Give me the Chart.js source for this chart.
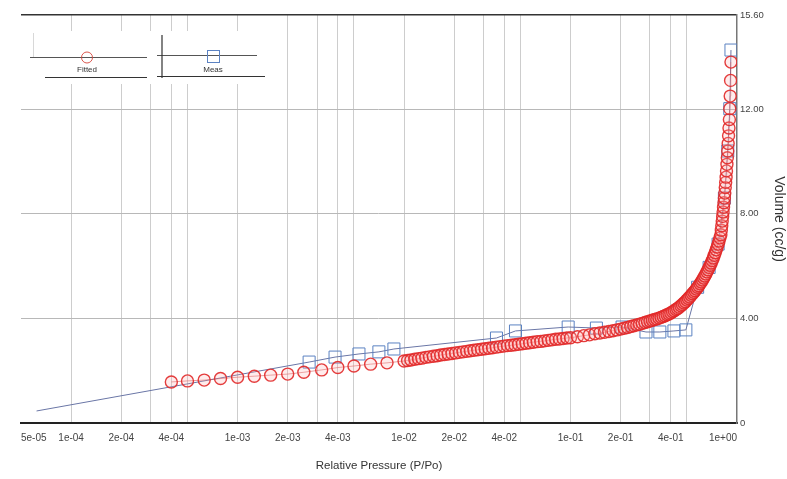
<!DOCTYPE html>
<html>
<head>
<meta charset="utf-8">
<script src="https://cdn.jsdelivr.net/npm/chart.js@4"></script>
<style>
  html, body { margin: 0; padding: 0; background: #fff; }
  canvas { display: block; }
</style>
</head>
<body>
<canvas id="chartIsotherm" width="787" height="479"></canvas>
<script>
// relative pressure (P/Po) and volume (cc/g)
const fittedP = [
  4.0e-4, 5.0e-4, 6.3e-4, 7.9e-4, 1.0e-3, 1.26e-3, 1.58e-3, 2.0e-3, 2.5e-3, 3.2e-3, 4.0e-3, 5.0e-3, 6.3e-3, 7.9e-3,
  0.0100, 0.0105, 0.0110, 0.0116, 0.0122, 0.0128, 0.0135, 0.0142, 0.0150, 0.0158, 0.0166, 0.0175, 0.0184, 0.0194, 0.0204,
  0.0215, 0.0226, 0.0238, 0.0250, 0.0263, 0.0277, 0.0292, 0.0307, 0.0323, 0.0340, 0.0358, 0.0377, 0.0397, 0.0418, 0.0440,
  0.0463, 0.0487, 0.0513, 0.0540, 0.0568, 0.0598, 0.0630, 0.0663, 0.0698, 0.0735, 0.0773, 0.0814, 0.0857, 0.0902, 0.0950,
  0.10, 0.11, 0.12, 0.13, 0.14, 0.15, 0.16, 0.17, 0.18, 0.19, 0.20, 0.21, 0.22, 0.23, 0.24, 0.25, 0.26, 0.27, 0.28, 0.29,
  0.30, 0.31, 0.32, 0.33, 0.34, 0.35, 0.36, 0.37, 0.38, 0.39, 0.40, 0.41, 0.42, 0.43, 0.44, 0.45, 0.46, 0.47, 0.48, 0.49,
  0.50, 0.51, 0.52, 0.53, 0.54, 0.55, 0.56, 0.57, 0.58, 0.59, 0.60, 0.61, 0.62, 0.63, 0.64, 0.65, 0.66, 0.67, 0.68, 0.69,
  0.70, 0.71, 0.72, 0.73, 0.74, 0.75, 0.76, 0.77, 0.78, 0.79, 0.80,
  0.805, 0.810, 0.815, 0.820, 0.825, 0.830, 0.835, 0.840, 0.845, 0.850, 0.855, 0.860, 0.865, 0.870, 0.875, 0.880,
  0.885, 0.890, 0.895, 0.900, 0.905, 0.910, 0.915, 0.920
];
const fittedV = [
  1.57, 1.61, 1.64, 1.70, 1.75, 1.79, 1.83, 1.87, 1.94, 2.03, 2.12, 2.18, 2.25, 2.30,
  2.37, 2.39, 2.41, 2.44, 2.46, 2.48, 2.51, 2.53, 2.55, 2.57, 2.60, 2.62, 2.64, 2.66, 2.68,
  2.70, 2.72, 2.74, 2.76, 2.78, 2.80, 2.82, 2.84, 2.86, 2.88, 2.90, 2.92, 2.94, 2.96, 2.97,
  2.99, 3.01, 3.03, 3.05, 3.07, 3.09, 3.11, 3.12, 3.14, 3.16, 3.18, 3.20, 3.21, 3.23, 3.25,
  3.26, 3.30, 3.34, 3.37, 3.41, 3.44, 3.47, 3.50, 3.53, 3.56, 3.59, 3.62, 3.65, 3.69, 3.72, 3.75, 3.78, 3.81, 3.84, 3.87,
  3.90, 3.93, 3.96, 3.98, 4.01, 4.04, 4.07, 4.10, 4.14, 4.17, 4.21, 4.25, 4.29, 4.34, 4.38, 4.43, 4.48, 4.53, 4.59, 4.64,
  4.70, 4.76, 4.82, 4.88, 4.94, 5.00, 5.06, 5.12, 5.19, 5.25, 5.32, 5.39, 5.47, 5.54, 5.62, 5.70, 5.78, 5.86, 5.95, 6.03,
  6.12, 6.21, 6.31, 6.41, 6.51, 6.62, 6.73, 6.84, 6.96, 7.08, 7.20,
  7.37, 7.54, 7.72, 7.90, 8.07, 8.25, 8.42, 8.60, 8.79, 9.00, 9.20, 9.40, 9.64, 9.89, 10.14, 10.40,
  10.69, 10.98, 11.28, 11.60, 12.02, 12.50, 13.10, 13.80
];
const measP = [6.2e-5, 2.69e-3, 3.85e-3, 5.36e-3, 7.06e-3, 8.69e-3, 3.59e-2, 4.67e-2, 9.68e-2, 0.143, 0.204,
  0.284, 0.344, 0.418, 0.493, 0.58, 0.68, 0.77, 0.84, 0.88, 0.905, 0.92];
const measV = [0.46, 2.33, 2.52, 2.64, 2.72, 2.83, 3.25, 3.52, 3.67, 3.63, 3.67,
  3.48, 3.48, 3.52, 3.56, 5.19, 5.95, 6.84, 8.60, 10.40, 12.02, 14.26];

const xTickValues = [5e-5, 1e-4, 2e-4, 3e-4, 4e-4, 5e-4, 1e-3, 2e-3, 3e-3, 4e-3, 5e-3,
  1e-2, 2e-2, 3e-2, 4e-2, 5e-2, 1e-1, 2e-1, 3e-1, 4e-1, 5e-1, 1];
const xTickLabels = ["5e-05", "1e-04", "2e-04", "", "4e-04", "", "1e-03", "2e-03", "", "4e-03", "",
  "1e-02", "2e-02", "", "4e-02", "", "1e-01", "2e-01", "", "4e-01", "", "1e+00"];
const yTickValues = [0, 4, 8, 12, 15.6];
const yTickLabels = ["0", "4.00", "8.00", "12.00", "15.60"];

const FONT = "'Liberation Sans', Arial, sans-serif";

// the little two-cell legend box in the top left corner
const legendBox = {
  id: "legendBox",
  afterDraw(chart) {
    const ctx = chart.ctx;
    ctx.save();
    ctx.fillStyle = "#fff";
    ctx.fillRect(29, 31, 242, 53);

    ctx.strokeStyle = "#d8d8d8";
    ctx.lineWidth = 1;
    ctx.beginPath();
    ctx.moveTo(33.5, 33); ctx.lineTo(33.5, 57);
    ctx.stroke();

    ctx.strokeStyle = "#555";
    ctx.beginPath();
    ctx.moveTo(30, 57.5); ctx.lineTo(147, 57.5);
    ctx.moveTo(157, 55.5); ctx.lineTo(257, 55.5);
    ctx.stroke();

    ctx.strokeStyle = "#333";
    ctx.lineWidth = 1.2;
    ctx.beginPath();
    ctx.moveTo(45, 77.5); ctx.lineTo(147, 77.5);
    ctx.moveTo(157, 76.5); ctx.lineTo(265, 76.5);
    ctx.moveTo(162, 35); ctx.lineTo(162, 78);
    ctx.stroke();

    ctx.strokeStyle = "rgba(215,70,60,0.9)";
    ctx.lineWidth = 1;
    ctx.beginPath();
    ctx.arc(87, 57.5, 5.5, 0, Math.PI * 2);
    ctx.stroke();

    ctx.strokeStyle = "#5b82c2";
    ctx.strokeRect(207.5, 50.5, 12, 12);

    ctx.fillStyle = "#333";
    ctx.font = "8px " + FONT;
    ctx.textAlign = "center";
    ctx.textBaseline = "middle";
    ctx.fillText("Fitted", 87, 70);
    ctx.fillText("Meas", 213, 70);
    ctx.restore();
  }
};

new Chart(document.getElementById("chartIsotherm"), {
  type: "scatter",
  data: {
    datasets: [
      {
        label: "Fitted",
        data: fittedP.map((p, i) => ({ x: p, y: fittedV[i] })),
        showLine: true,
        borderColor: "rgba(210,80,80,0.55)",
        borderWidth: 1,
        pointStyle: "circle",
        pointRadius: 6,
        pointBorderWidth: 1.4,
        pointBorderColor: "rgba(225,40,40,0.9)",
        pointBackgroundColor: "rgba(255,170,170,0.22)"
      },
      {
        label: "Meas",
        data: measP.map((p, i) => ({ x: p, y: measV[i] })),
        showLine: true,
        borderColor: "#6a76a6",
        borderWidth: 1,
        pointStyle: "rect",
        pointRadius: (c) => (c.dataIndex === 0 ? 0 : 8.5),
        pointBorderWidth: 1,
        pointBorderColor: "#5b82c2",
        pointBackgroundColor: "rgba(0,0,0,0)"
      }
    ]
  },
  options: {
    responsive: false,
    animation: false,
    devicePixelRatio: 1,
    layout: { padding: { left: 21, top: 15, right: 0, bottom: 0 } },
    plugins: { legend: { display: false }, tooltip: { enabled: false } },
    scales: {
      x: {
        type: "logarithmic",
        min: 5e-5,
        max: 1,
        afterBuildTicks: (s) => { s.ticks = xTickValues.map((v) => ({ value: v })); },
        afterFit: (s) => { s.height = 56; },
        ticks: {
          autoSkip: false,
          maxRotation: 0,
          align: "inner",
          padding: 9,
          color: "#444",
          font: { family: FONT, size: 10 },
          callback: (v, i) => xTickLabels[i]
        },
        grid: {
          drawTicks: false,
          color: (c) => (c.index === 0 || c.index === xTickValues.length - 1 ? "rgba(0,0,0,0)" : "#cdcdcd"),
          lineWidth: 1
        },
        border: { color: "#222", width: 2 },
        title: {
          display: true,
          text: "Relative Pressure (P/Po)",
          color: "#333",
          font: { family: FONT, size: 11.5 },
          padding: { top: 0, bottom: 6 }
        }
      },
      y: {
        position: "right",
        min: 0,
        max: 15.6,
        afterBuildTicks: (s) => { s.ticks = yTickValues.map((v) => ({ value: v })); },
        afterFit: (s) => { s.width = 50; },
        ticks: {
          padding: 3,
          color: "#444",
          font: { family: FONT, size: 9.5 },
          callback: (v, i) => yTickLabels[i]
        },
        grid: {
          drawTicks: false,
          color: (c) => {
            const v = c.tick ? c.tick.value : 0;
            if (v === 0) return "rgba(0,0,0,0)";
            return v === 15.6 ? "#333" : "#b8b8b8";
          },
          lineWidth: (c) => (c.tick && c.tick.value === 15.6 ? 1.6 : 1)
        },
        border: { color: "#777", width: 1.5 },
        title: {
          display: true,
          text: "Volume (cc/g)",
          color: "#333",
          font: { family: FONT, size: 14 },
          padding: { top: 0, bottom: 0 }
        }
      }
    }
  },
  plugins: [legendBox]
});
</script>
</body>
</html>
